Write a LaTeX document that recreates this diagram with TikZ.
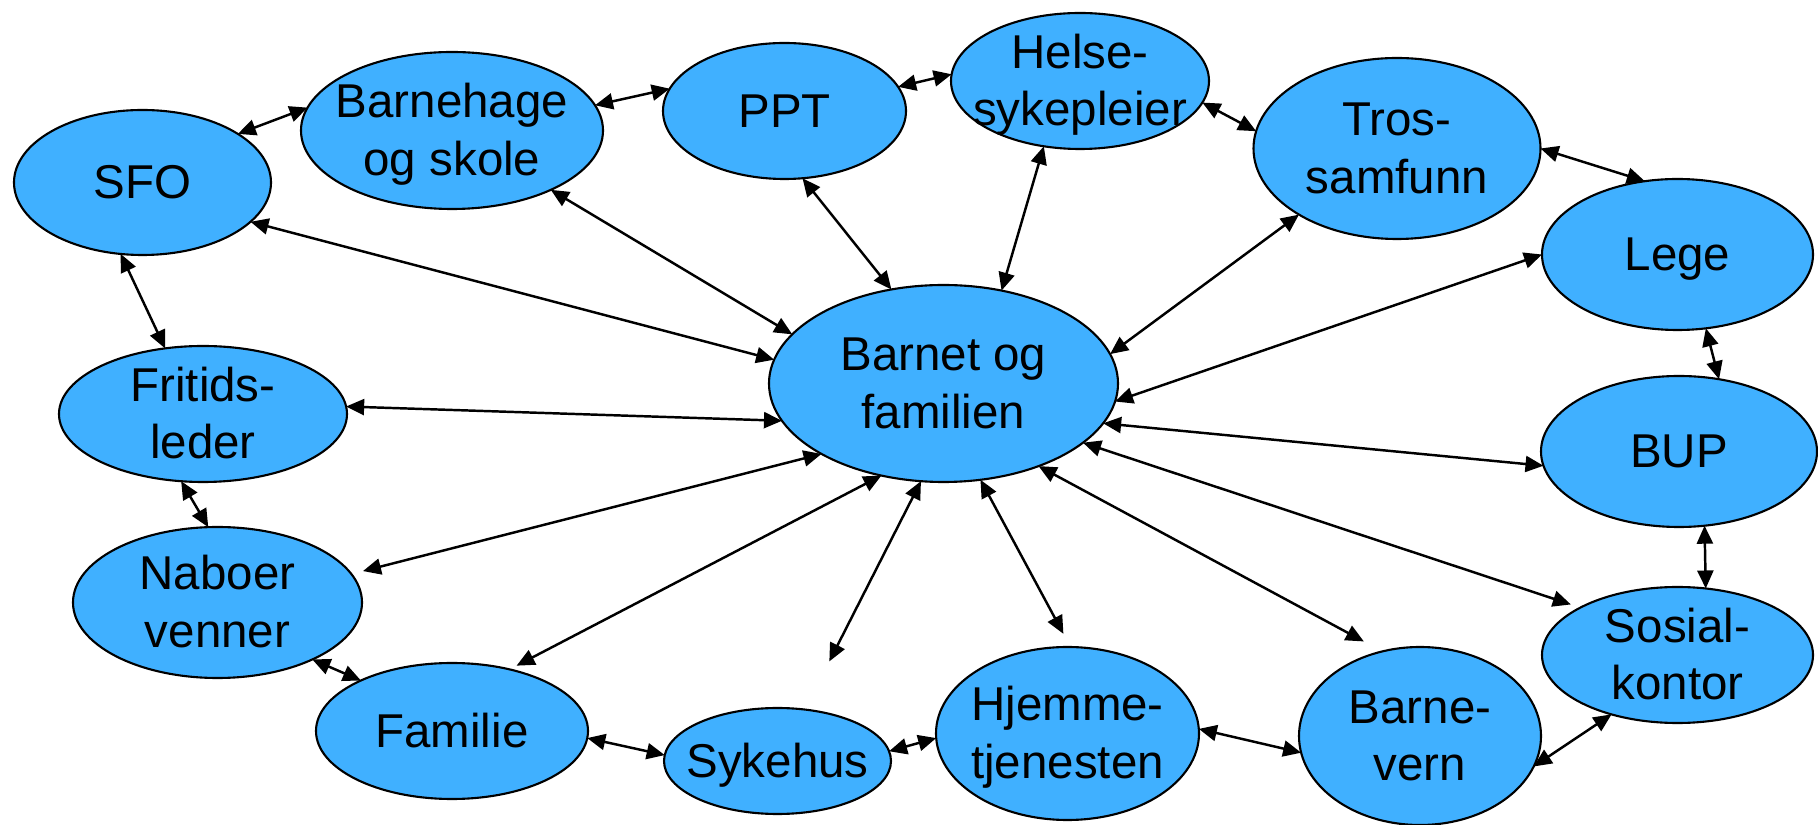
\documentclass[tikz,border=0pt]{standalone}
\usepackage{fontspec}
\setmainfont{Liberation Sans}
\usetikzlibrary{shapes.geometric,arrows.meta}
\definecolor{nodeblue}{HTML}{40B0FF}
\newcommand{\lbl}[1]{\makebox[0pt]{\raisebox{-4.9pt}[0pt][0pt]{\fontsize{13.5}{16.3}\selectfont\begin{tabular}{@{}c@{}}#1\end{tabular}}}}
\begin{document}
\begin{tikzpicture}[x=0.01cm,y=-0.01cm,
  el/.style 2 args={ellipse, draw=black, fill=nodeblue, line width=0.6pt, inner sep=0pt, outer sep=0pt, minimum width=#1*0.01cm, minimum height=#2*0.01cm},
  link/.style={{Triangle[length=0.18cm,width=0.16cm]}-{Triangle[length=0.18cm,width=0.16cm]}, line width=0.7pt}]
\useasboundingbox (0,0) rectangle (1818,825);

\node[el={257}{145}] (sfo) at (142.5,182.5) {\lbl{SFO}};
\node[el={302}{157}] (barnehage) at (452,130.5) {\lbl{Barnehage\\og skole}};
\node[el={243}{136}] (ppt) at (784.5,111) {\lbl{PPT}};
\node[el={258}{136}] (helse) at (1080,81) {\lbl{Helse-\\sykepleier}};
\node[el={287}{181}] (tros) at (1397,148.5) {\lbl{Tros-\\samfunn}};
\node[el={271}{151}] (lege) at (1677.5,254.5) {\lbl{Lege}};
\node[el={276}{151}] (bup) at (1679,451.5) {\lbl{BUP}};
\node[el={271}{136}] (sosial) at (1677.5,655) {\lbl{Sosial-\\kontor}};
\node[el={242}{178}] (barnevern) at (1420,736) {\lbl{Barne-\\vern}};
\node[el={263}{173}] (hjemme) at (1067.5,733.5) {\lbl{Hjemme-\\tjenesten}};
\node[el={227}{106}] (sykehus) at (777.5,761) {\lbl{Sykehus}};
\node[el={272}{136}] (familie) at (452,731) {\lbl{Familie}};
\node[el={289}{151}] (naboer) at (217.5,602.5) {\lbl{Naboer\\venner}};
\node[el={288}{136}] (fritids) at (203,414) {\lbl{Fritids-\\leder}};
\node[el={349}{197}] (barnet) at (943.5,383.5) {\lbl{Barnet og\\familien}};

% ring
\draw[link] (sfo.27) -- (barnehage.171);
\draw[link] (barnehage.10) -- (ppt.169);
\draw[link] (ppt.12) -- (helse.177);
\draw[link] (helse.350) -- (tros.173);
\draw[link] (tros.0) -- (lege.114);
\draw[link] (lege.291) -- (bup.61);
\draw[link] (bup.289) -- (sosial.67);
\draw[link] (sosial.222) -- (barnevern.345);
\draw[link] (barnevern.188) -- (hjemme.2);
\draw[link] (hjemme.182) -- (sykehus.5);
\draw[link] (sykehus.177) -- (familie.357);
\draw[link] (familie.151) -- (naboer.329);
\draw[link] (naboer.97) -- (fritids.252);
\draw[link] (fritids.120) -- (sfo.253);

% spokes
\draw[link] (barnet.172) -- (sfo.340);
\draw[link] (barnet.162) -- (barnehage.329);
\draw[link] (barnet.119) -- (ppt.285);
\draw[link] (barnet.58) -- (helse.241);
\draw[link] (barnet.10) -- (tros.214);
\draw[link] (barnet.354) -- (lege.180);
\draw[link] (barnet.346) -- (bup.186);
\draw[link, shorten >=0.1cm] (barnet.337) -- (sosial.154);
\draw[link, shorten >=0.21cm] (barnet.319) -- (barnevern.114);
\draw[link, shorten >=0.15cm] (barnet.291) -- (hjemme.88);
\draw[link, shorten >=0.54cm] (barnet.257) -- (sykehus.62);
\draw[link, shorten >=0.08cm] (barnet.236) -- (familie.47);
\draw[link, shorten >=0.12cm] (barnet.210) -- (naboer.12);
\draw[link] (barnet.193) -- (fritids.3);
\end{tikzpicture}
\end{document}
